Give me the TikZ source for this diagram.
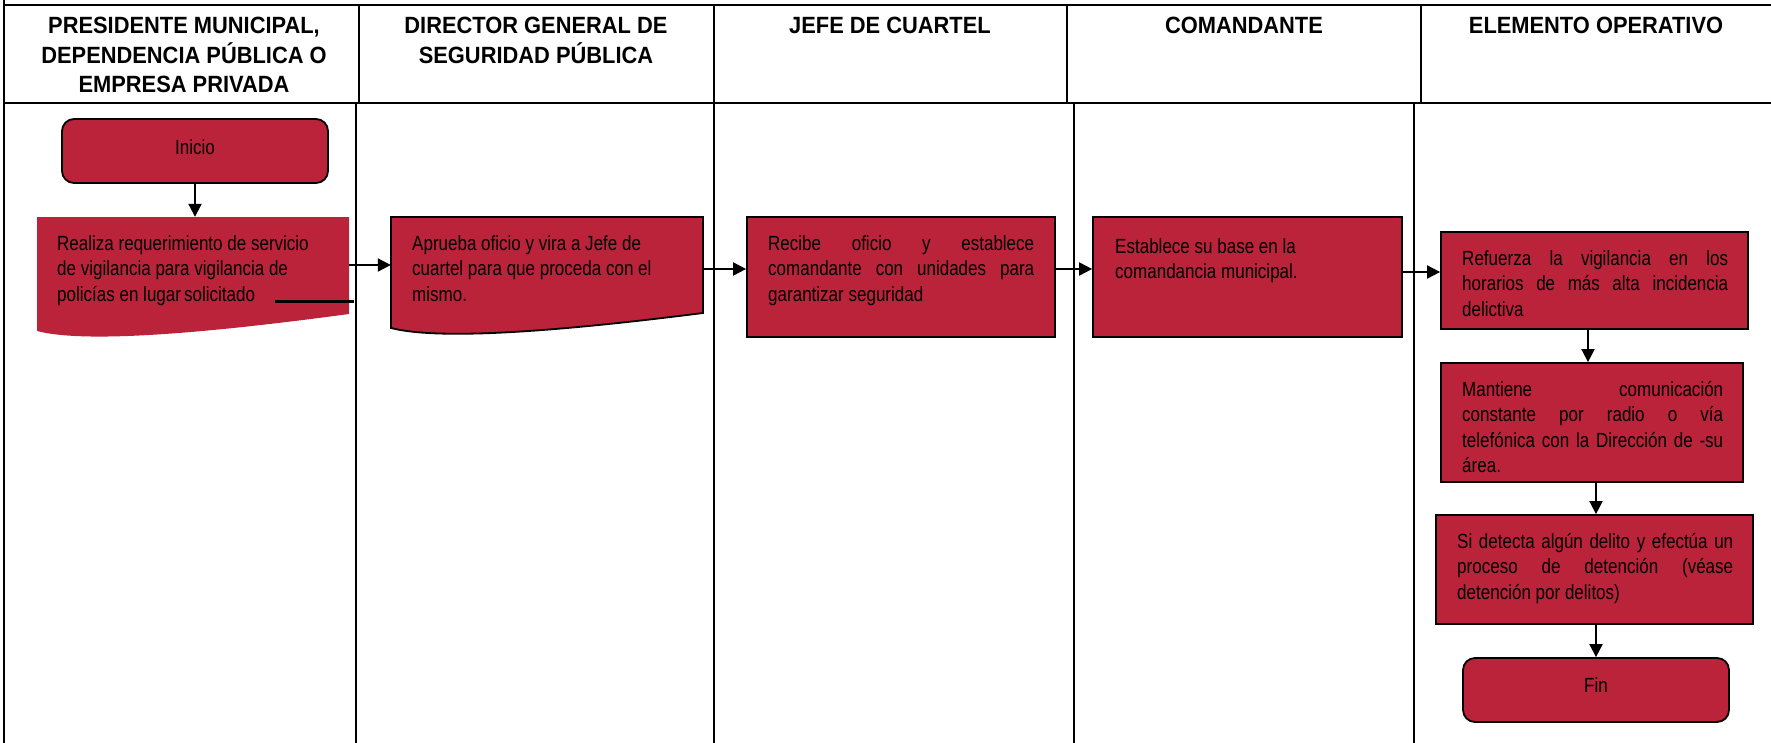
\documentclass[tikz,border=0pt]{standalone}
\usepackage{fontspec}
\setmainfont{Liberation Sans}[FakeStretch=0.83]
\newfontfamily\hdfam{Liberation Sans}[FakeStretch=0.93]
\usetikzlibrary{arrows.meta}
\definecolor{cellred}{RGB}{186,35,57}
\newcommand{\bxfont}{\fontsize{20.5}{25.5}\selectfont}
\newcommand{\hdfont}{\hdfam\fontsize{23.5}{29.5}\selectfont\bfseries}
\tikzset{
  lane/.style={line width=2.5pt, line cap=rect},
  procbox/.style={draw=black, line width=1.8pt, fill=cellred, inner sep=0pt},
  termbox/.style={procbox, rounded corners=12pt},
  ghost/.style={inner sep=0pt},
  docfill/.style={fill=cellred},
  docdraw/.style={fill=cellred, draw=black, line width=1.8pt},
  txt/.style={font=\bxfont, inner sep=0pt, anchor=north west, align=left},
  jtxt/.style={txt, align=justify},
  hdr/.style={font=\hdfont, inner sep=0pt, anchor=north, align=center},
  arr/.style={line width=2pt, -{Triangle[length=13pt,width=13pt]}},
}
\begin{document}
\begin{tikzpicture}[x=1pt,y=-1pt]
\useasboundingbox (0,0) rectangle (1771,742);
% lanes
\draw[lane] (4,5) -- (1771,5);
\draw[lane] (4,0) -- (4,742);
\draw[lane] (4,103) -- (1771,103);
\foreach \xx in {359,714,1067,1421} \draw[lane] (\xx,5) -- (\xx,103);
\foreach \xx in {356,714,1074,1414} \draw[lane] (\xx,103) -- (\xx,742);
% headers
\node[hdr] (h1) at (184,17) {PRESIDENTE MUNICIPAL,\\DEPENDENCIA PÚBLICA O\\EMPRESA PRIVADA};
\node[hdr] (h2) at (536,17) {DIRECTOR GENERAL DE\\SEGURIDAD PÚBLICA};
\node[hdr] (h3) at (890,17) {JEFE DE CUARTEL};
\node[hdr] (h4) at (1244,17) {COMANDANTE};
\node[hdr] (h5) at (1596,17) {ELEMENTO OPERATIVO};
% Inicio
\node[termbox, minimum width=266pt, minimum height=64pt] (ini) at (195,151) {};
\node[font=\bxfont, inner sep=0pt] (tini) at (195,147) {Inicio};
% document 1
\fill[docfill] (37,217) -- (349,217) -- (349,314) .. controls (230,330) and (90,345) .. (37,331) -- cycle;
\node[ghost, minimum width=312pt, minimum height=114pt] (d1) at (193,274) {};
\node[txt] (td1) at (57,235) {Realiza requerimiento de servicio\\de vigilancia para vigilancia de\\policías en lugar\hspace{3pt}solicitado};
\coordinate (u1) at (275,301);
\coordinate (u2) at (354,301);
\draw[line width=3pt] (u1) -- (u2);
% document 2
\draw[docdraw] (391,217) -- (703,217) -- (703,313) .. controls (585,328) and (445,342) .. (391,328) -- cycle;
\node[ghost, minimum width=312pt, minimum height=111pt] (d2) at (547,272.5) {};
\node[txt] (td2) at (412,235) {Aprueba oficio y vira a Jefe de\\cuartel para que proceda con el\\mismo.};
% box 3
\node[procbox, minimum width=308pt, minimum height=120pt] (b3) at (901,277) {};
\node[jtxt, text width=266pt] (tb3) at (768,235) {Recibe oficio y establece\linebreak comandante con unidades para\linebreak garantizar seguridad};
% box 4
\node[procbox, minimum width=309pt, minimum height=120pt] (b4) at (1247.5,277) {};
\node[txt] (tb4) at (1115,238) {Establece su base en la\\comandancia municipal.};
% box 5
\node[procbox, minimum width=307pt, minimum height=97pt] (b5) at (1594.5,280.5) {};
\node[jtxt, text width=266pt] (tb5) at (1462,250) {Refuerza la vigilancia en los\linebreak horarios de más alta incidencia\linebreak delictiva};
% box 6
\node[procbox, minimum width=302pt, minimum height=119pt] (b6) at (1592,422.5) {};
\node[jtxt, text width=261pt] (tb6) at (1462,381) {Mantiene comunicación\linebreak constante por radio o vía\linebreak telefónica con la Dirección de -su\linebreak área.};
% box 7
\node[procbox, minimum width=317pt, minimum height=109pt] (b7) at (1594.5,569.5) {};
\node[jtxt, text width=276pt] (tb7) at (1457,533) {Si detecta algún delito y efectúa un\linebreak proceso de detención (véase\linebreak detención por delitos)};
% Fin
\node[termbox, minimum width=266pt, minimum height=64pt] (fin) at (1596,690) {};
\node[font=\bxfont, inner sep=0pt] (tfin) at (1596,685) {Fin};
% connectors
\coordinate (ya) at (0,265);
\coordinate (yb) at (0,269);
\coordinate (yc) at (0,272);
\draw[arr] (ini.south) -- (ini.south |- d1.north);
\draw[arr] (d1.east |- ya) -- (d2.west |- ya);
\draw[arr] (d2.east |- yb) -- (b3.west |- yb);
\draw[arr] (b3.east |- yb) -- (b4.west |- yb);
\draw[arr] (b4.east |- yc) -- (b5.west |- yc);
\coordinate (xa) at (1588,0);
\coordinate (xb) at (1596,0);
\draw[arr] (b5.south -| xa) -- (b6.north -| xa);
\draw[arr] (b6.south -| xb) -- (b7.north -| xb);
\draw[arr] (b7.south -| xb) -- (fin.north);
\end{tikzpicture}
\end{document}
